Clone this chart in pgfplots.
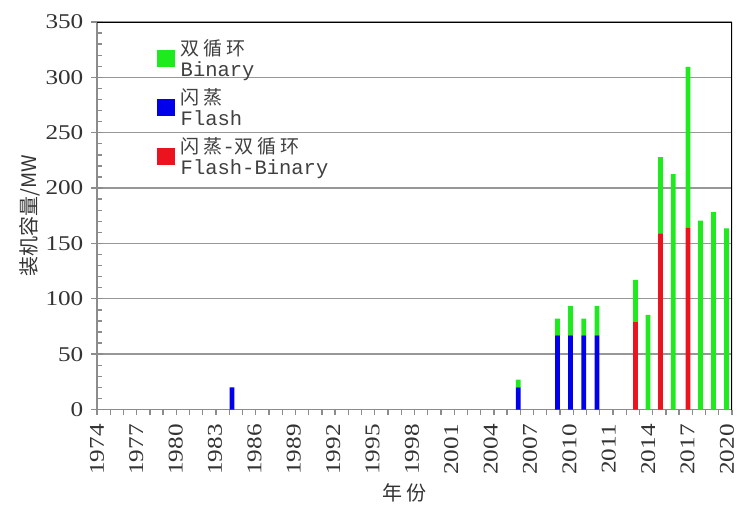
\documentclass[border=0pt]{standalone}
\usepackage{pgfplots}
\pgfplotsset{compat=1.18}
\usepackage{pgfplotstable}
\usepackage{fontspec}
\setmainfont{Liberation Serif}
\setmonofont{Liberation Mono}
\newfontfamily\cjk{Noto Sans CJK SC}
\newfontfamily\cjkl[LetterSpace=20]{Noto Sans CJK SC}
\definecolor{bgreen}{RGB}{30,235,30}
\definecolor{bblue}{RGB}{0,0,235}
\definecolor{bred}{RGB}{235,20,30}
\definecolor{axgray}{RGB}{140,140,140}
\newcommand\sx[1]{\scalebox{1.2}[1]{#1}}
\newcommand\lgc{\fontsize{19bp}{21bp}\selectfont\cjkl}
\newcommand\lgm{\fontsize{20.5bp}{23.5bp}\selectfont\ttfamily}

\pgfplotstableread{
x flash fb binary
10.2 20 0 0
31.85 20 0 7
34.8 67 0 15
35.8 67 0 26.5
36.8 67 0 15
37.8 67 0 26.5
40.7 0 79 38
41.65 0 0 85.4
42.6 0 159 69
43.56 0 0 212.7
44.67 0 164 145.5
45.62 0 0 170.6
46.6 0 0 178.2
47.59 0 0 163.7
}\data

\begin{document}
\begin{tikzpicture}
\begin{axis}[
  name=ax,
  scale only axis, width=635bp, height=387.5bp,
  xmin=0, xmax=48, ymin=0, ymax=350,
  ybar stacked, bar width=0.36,
  axis lines*=left,
  axis line style={axgray, line width=1.6bp, -},
  xtick={0,2.976,5.952,8.928,11.904,14.88,17.856,20.832,23.808,26.784,29.76,32.736,35.712,38.688,41.664,44.64,47.616},
  minor xtick={0,1,...,48},
  xticklabels={\sx{1974},\sx{1977},\sx{1980},\sx{1983},\sx{1986},\sx{1989},\sx{1992},\sx{1995},\sx{1998},\sx{2001},\sx{2004},\sx{2007},\sx{2010},\sx{2011},\sx{2014},\sx{2017},\sx{2020}},
  ytick={0,50,...,350}, minor y tick num=4,
  yticklabels={\sx{0},\sx{50},\sx{100},\sx{150},\sx{200},\sx{250},\sx{300},\sx{350}},
  tick label style={font=\fontsize{21bp}{24bp}\selectfont, text=black!80},
  xticklabel style={rotate=90, anchor=east, inner sep=2bp},
  xticklabel shift=7bp,
  yticklabel style={inner sep=2bp, xshift=-6bp},
  tick align=center,
  major tick length=11bp, minor tick length=5bp,
  tick style={axgray, line width=1.3bp},
  major x tick style={draw=none},
  minor x tick style={yshift=-2.5bp},
  minor y tick style={xshift=2.5bp},
  ymajorgrids, grid style={axgray!90, line width=1.3bp},
  ylabel={\cjk 装机容量/MW},
  ylabel style={at={(axis description cs:-0.1055,0.5)}, anchor=center, font=\fontsize{20bp}{22bp}\selectfont, text=black!80},
  xlabel={\cjkl 年份},
  xlabel style={at={(axis description cs:0.485,-0.2155)}, anchor=center, font=\fontsize{20bp}{22bp}\selectfont, text=black!80},
  legend style={draw=none, fill=none, at={(axis description cs:0.090,0.964)}, anchor=north west,
    row sep=8bp, nodes={align=left, inner sep=1bp, text=black!75}},
  legend cell align=left,
]
\addplot[fill=bblue, draw=none, forget plot] table[x=x, y=flash] {\data};
\addplot[fill=bred, draw=none, forget plot] table[x=x, y=fb] {\data};
\addplot[fill=bgreen, draw=none, forget plot] table[x=x, y=binary] {\data};
\addlegendimage{legend image code/.code={\fill[bgreen] (0bp,-8bp) rectangle (17bp,8bp); \path (22bp,0bp);}}
\addlegendentry{{\lgc 双循环}\\[4bp]{\lgm Binary}}
\addlegendimage{legend image code/.code={\fill[bblue] (0bp,-8bp) rectangle (17bp,8bp); \path (22bp,0bp);}}
\addlegendentry{{\lgc 闪蒸}\\[4bp]{\lgm Flash}}
\addlegendimage{legend image code/.code={\fill[bred] (0bp,-8bp) rectangle (17bp,8bp); \path (22bp,0bp);}}
\addlegendentry{{\lgc 闪蒸}{\lgm -}{\lgc 双循环}\\[4bp]{\lgm Flash-Binary}}
\draw[black, line width=1.5bp] (rel axis cs:0,1) -- (rel axis cs:1,1) -- (rel axis cs:1,0);
\end{axis}
\pgfresetboundingbox
\path[use as bounding box] ([xshift=-97bp,yshift=-96.5bp]ax.south west) rectangle ([xshift=7bp,yshift=22bp]ax.north east);
\end{tikzpicture}
\end{document}
